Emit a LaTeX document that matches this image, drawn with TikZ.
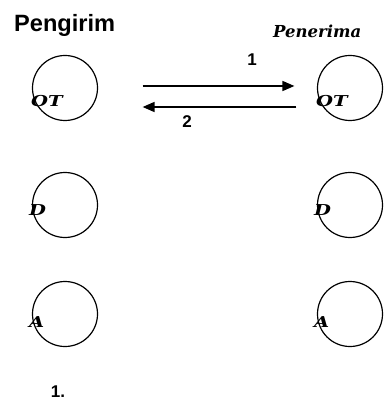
\documentclass[tikz,border=0pt]{standalone}
\usepackage{fontspec}
\setsansfont{Liberation Sans}
\newfontfamily\layerfont{DejaVu Serif}
\usetikzlibrary{arrows.meta}
\newcommand\widetag[1]{\scalebox{1.3}[1]{#1}}
\begin{document}
\begin{tikzpicture}[x=1pt,y=-1pt,
  layer/.style={circle,draw,line width=1.2pt,minimum size=65pt,inner sep=0pt},
  tag/.style={anchor=base west,inner sep=0pt,font=\layerfont\bfseries\itshape\fontsize{15}{15}\selectfont},
  num/.style={inner sep=0pt,font=\sffamily\bfseries\fontsize{17}{18}\selectfont},
  msg/.style={line width=1.6pt,-{Triangle[length=12pt,width=10pt]}}]
\useasboundingbox (0,0) rectangle (385,403);
\node[anchor=base west,inner sep=0pt,font=\sffamily\bfseries\fontsize{23.6}{26}\selectfont] (pengirim) at (14,32) {Pengirim};
\node[anchor=base west,inner sep=0pt,font=\layerfont\bfseries\itshape\fontsize{16.5}{18}\selectfont] (penerima) at (273,38) {Penerima};
%% sender side
\node[layer] (s1) at (65,88) {};
\node[layer] (s2) at (65,205) {};
\node[layer] (s3) at (65,314) {};
\node[tag] (s1t) at (31,107) {\widetag{OT}};
\node[tag] (s2t) at (29,215) {\widetag{D}};
\node[tag] (s3t) at (29,327) {\widetag{A}};
%% receiver side
\node[layer] (r1) at (350,88) {};
\node[layer] (r2) at (350,205) {};
\node[layer] (r3) at (350,314) {};
\node[tag] (r1t) at (316,107) {\widetag{OT}};
\node[tag] (r2t) at (314,215) {\widetag{D}};
\node[tag] (r3t) at (314,327) {\widetag{A}};
%% messages
\draw[msg,shorten <=44.5pt,shorten >=22.5pt] ([yshift=2pt]s1.east) -- ([yshift=2pt]r1.west);
\draw[msg,shorten <=20.5pt,shorten >=44.5pt] ([yshift=-19pt]r1.west) -- ([yshift=-19pt]s1.east);
\node[num] (n1) at (252,60) {1};
\node[num] (n2) at (187,122) {2};
\node[num] (step) at (58,392) {1.};
\end{tikzpicture}
\end{document}
